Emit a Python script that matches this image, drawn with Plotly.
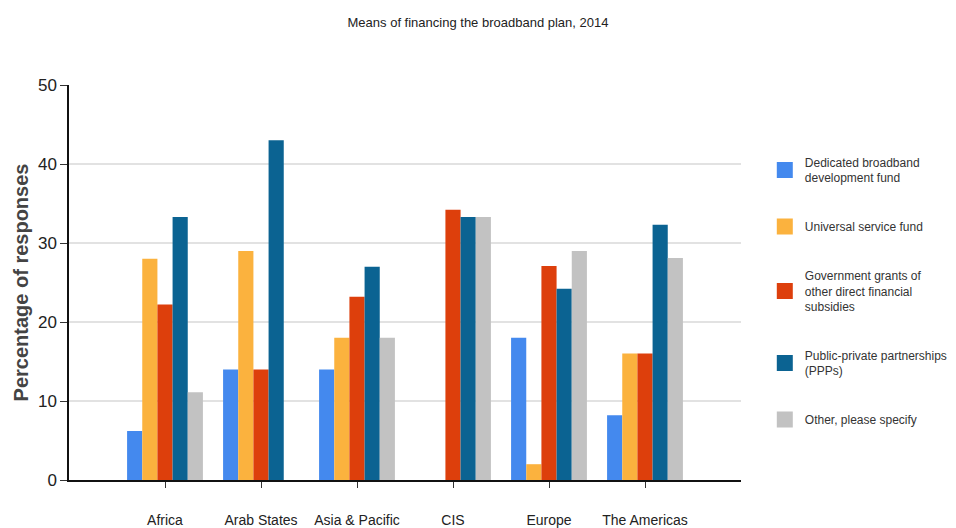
import plotly.graph_objects as go

categories = ["Africa", "Arab States", "Asia & Pacific", "CIS", "Europe", "The Americas"]
series_names = [
    "Dedicated broadband<br>development fund",
    "Universal service fund",
    "Government grants of<br>other direct financial<br>subsidies",
    "Public-private partnerships<br>(PPPs)",
    "Other, please specify",
]
dedicated_fund = [6.2, 14.0, 14.0, 0, 18.0, 8.2]
universal_fund = [28.0, 29.0, 18.0, 0, 2.0, 16.0]
government_grants = [22.2, 14.0, 23.2, 34.2, 27.1, 16.0]
ppp = [33.3, 43.0, 27.0, 33.3, 24.2, 32.3]
other = [11.1, 0, 18.0, 33.3, 29.0, 28.1]
colors = ["#4489EE", "#FBB23E", "#DD3F0C", "#0B6392", "#C2C2C2"]

FONT = "Liberation Sans, Arial, sans-serif"

fig = go.Figure()
all_series = [dedicated_fund, universal_fund, government_grants, ppp, other]
for i, (name, vals) in enumerate(zip(series_names, all_series)):
    fig.add_trace(go.Bar(x=categories, y=vals, name=name, marker_color=colors[i],
                         marker_line_width=0, showlegend=False, legendgroup=f"g{i}"))
for i, name in enumerate(series_names):
    fig.add_trace(go.Scatter(x=[None], y=[None], mode="markers", name=name,
                             marker=dict(symbol="square", size=16, color=colors[i]),
                             legendgroup=f"g{i}", showlegend=True))

fig.update_layout(
    width=956, height=528,
    margin=dict(l=69, r=215, t=85, b=48, autoexpand=False),
    paper_bgcolor="white", plot_bgcolor="white",
    barmode="group", bargap=0.21, bargroupgap=0,
    title=dict(text="Means of financing the broadband plan, 2014", x=0.5, xanchor="center",
               y=0.958, yanchor="middle", font=dict(family=FONT, size=13, color="#222")),
    font=dict(family=FONT, color="#222"),
    legend=dict(xref="container", yref="container", x=0.8, xanchor="left",
                y=0.72, yanchor="top", maxheight=420,
                font=dict(family=FONT, size=12, color="#333"),
                tracegroupgap=30, itemsizing="trace", bgcolor="rgba(0,0,0,0)"),
    xaxis=dict(range=[-1, 6], showline=True, linecolor="#111", linewidth=2,
               ticks="outside", ticklen=6, tickcolor="#333", tickwidth=1,
               ticklabelstandoff=20, tickfont=dict(family=FONT, size=14, color="#222"),
               showgrid=False, fixedrange=True, automargin=False),
    yaxis=dict(range=[0, 50], dtick=10, showline=True, linecolor="#111", linewidth=1.5,
               ticks="outside", ticklen=7, tickcolor="#333",
               gridcolor="#E2E2E2", gridwidth=2, zeroline=False, automargin=False,
               tickfont=dict(family=FONT, size=17, color="#222"),
               title=dict(text="Percentage of responses", standoff=4,
                          font=dict(family=FONT, size=20,
                                    color="#444", weight="bold"))),
)

fig.write_html("out.html")
